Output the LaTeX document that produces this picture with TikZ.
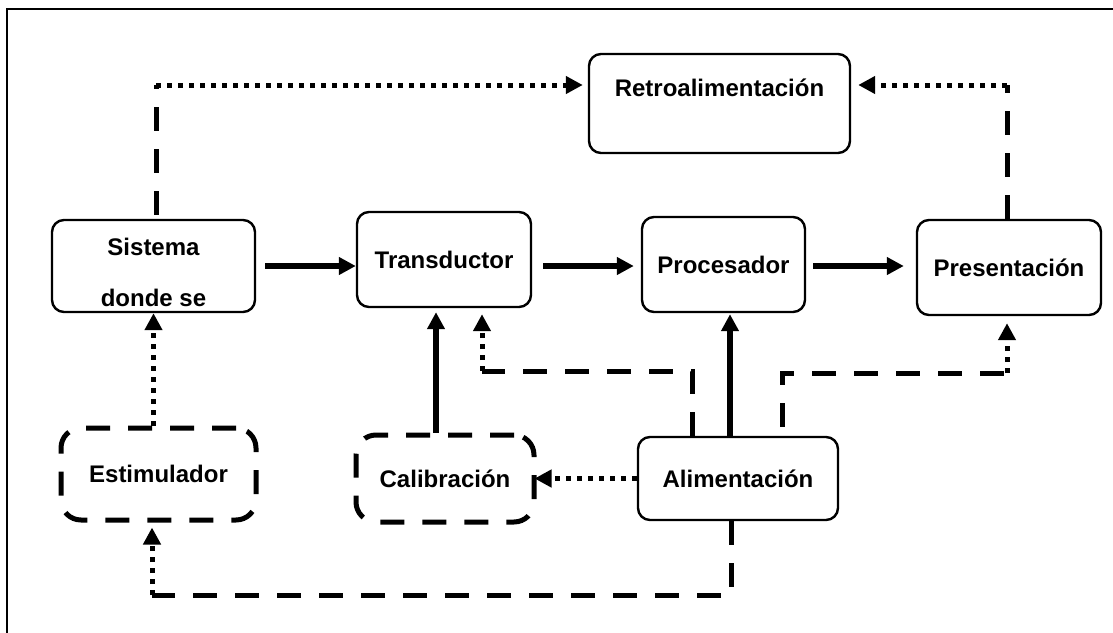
\documentclass[tikz,border=0pt]{standalone}
\usepackage{fontspec}
\setmainfont{Liberation Sans}
\usetikzlibrary{arrows.meta}

\tikzset{
  blk/.style={draw, rounded corners=12pt, line width=2.4pt, inner sep=0pt,
    font=\bfseries\fontsize{24}{28}\selectfont},
  dblk/.style={blk, line width=5pt, rounded corners=20pt, dash pattern=on 24pt off 18pt},
  solidarr/.style={line width=5.5pt, -{Triangle[length=17pt,width=17pt]}},
  dashln/.style={line width=5pt, dash pattern=on 24pt off 18pt},
  dotln/.style={line width=5pt, dash pattern=on 5pt off 6pt},
  dotarr/.style={dotln, -{Triangle[length=17pt,width=17pt]}},
}

\begin{document}
\begin{tikzpicture}[x=1pt,y=-1pt]
  \useasboundingbox (0,0) rectangle (1113,632);
  \draw[line width=2.5pt] (7,640) -- (7,9) -- (1120,9);

  \node[blk, minimum width=261pt, minimum height=99pt, text height=17pt, text depth=31pt] (ret) at (719.5,103.5) {Retroalimentación};
  \node[blk, minimum width=203pt, minimum height=92pt, text height=81pt, text depth=0pt] (sis) at (153.5,266) {\shortstack{Sistema\\[30pt]donde se}};
  \node[blk, minimum width=174pt, minimum height=95pt] (tra) at (444,259.5) {Transductor};
  \node[blk, minimum width=163pt, minimum height=95pt] (pro) at (723.5,264.5) {Procesador};
  \node[blk, minimum width=184pt, minimum height=95pt] (pre) at (1009,267.5) {Presentación};
  \node[dblk, minimum width=195pt, minimum height=92pt] (est) at (158.5,474) {Estimulador};
  \node[dblk, minimum width=178pt, minimum height=87pt] (cal) at (445,478.5) {Calibración};
  \node[blk, minimum width=200pt, minimum height=83pt] (ali) at (738,478.5) {Alimentación};

  \coordinate (c1) at (156,85);
  \coordinate (c2) at (1007,85);
  \coordinate (c3) at (692,371);
  \coordinate (c4) at (482,371);
  \coordinate (c5) at (782,373);
  \coordinate (c6) at (1007,373);
  \coordinate (c7) at (731,595);
  \coordinate (c8) at (152,595);

  \draw[solidarr, shorten <=9pt] (sis.east |- 0,266) -- (tra.west |- 0,266);
  \draw[solidarr, shorten <=11pt, shorten >=7pt] (tra.east |- 0,266) -- (pro.west |- 0,266);
  \draw[solidarr, shorten <=7pt, shorten >=12pt] (pro.east |- 0,266) -- (pre.west |- 0,266);

  \draw[dashln, shorten <=4pt] (c1 |- sis.north) -- (c1);
  \draw[dotarr, shorten >=5pt] (c1) -- (c1 -| ret.west);
  \draw[dashln] (c2 |- pre.north) -- (c2);
  \draw[dotarr, shorten >=7pt] (c2) -- (c2 -| ret.east);

  \draw[dotarr] (est.north -| sis.south) -- (sis.south);
  \draw[solidarr, shorten >=4pt] ([xshift=-9pt]cal.north) -- ([xshift=-9pt]cal.north |- tra.south);

  \draw[dashln] (c3 |- ali.north) -- (c3) -- (c4);
  \draw[dotarr, shorten >=6pt] (c4) -- (c4 |- tra.south);
  \draw[solidarr, shorten >=1pt] (ali.north -| 730,0) -- (pro.south -| 730,0);
  \draw[dashln, shorten <=9pt] (c5 |- ali.north) -- (c5) -- (c6);
  \draw[dotarr, shorten >=7pt] (c6) -- (c6 |- pre.south);

  \draw[dotarr, shorten >=-2pt] (ali.west) -- (cal.east);
  \draw[dashln] (ali.south -| c7) -- (c7) -- (c8);
  \draw[dotarr, shorten >=5pt] (c8) -- (c8 |- est.south);
\end{tikzpicture}
\end{document}
